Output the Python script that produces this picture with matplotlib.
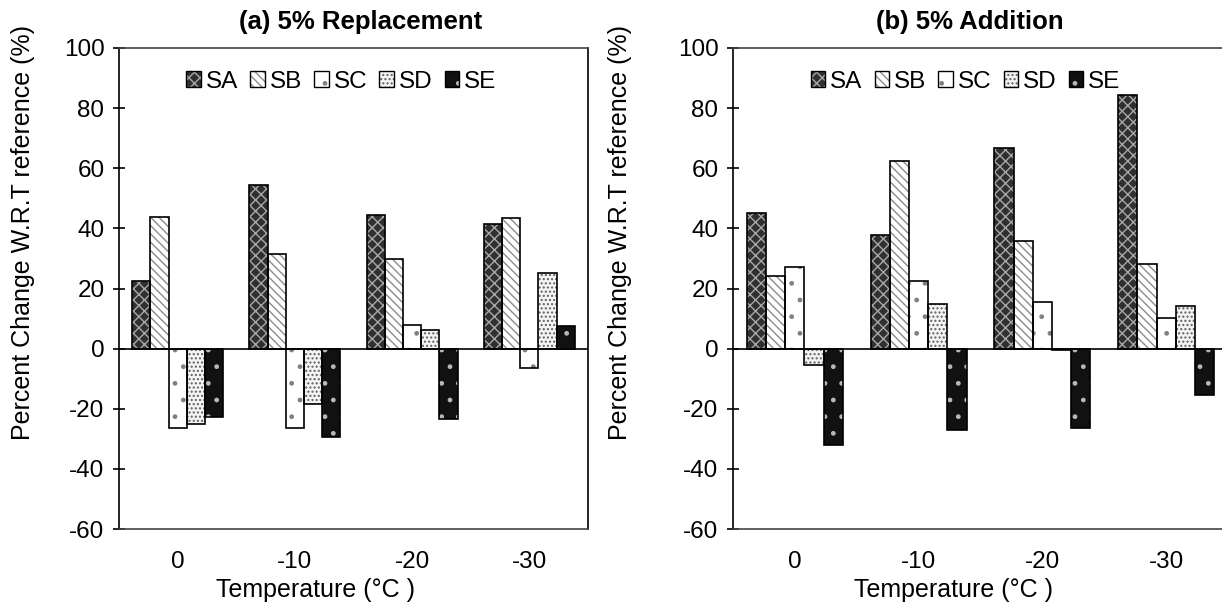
import numpy as np
import matplotlib
matplotlib.use("Agg")
import matplotlib.pyplot as plt
from matplotlib.patches import Patch

plt.rcParams['font.family'] = ['Liberation Sans', 'DejaVu Sans']
plt.rcParams['hatch.linewidth'] = 1.0
plt.rcParams['axes.unicode_minus'] = False

# data
temps = ['0', '-10', '-20', '-30']
series = ['SA', 'SB', 'SC', 'SD', 'SE']

repl_SA = [22.5, 54.3, 44.4, 41.6]
repl_SB = [43.8, 31.6, 29.9, 43.3]
repl_SC = [-26.5, -26.5, 7.9, -6.5]
repl_SD = [-25.0, -18.3, 6.3, 25.0]
repl_SE = [-22.6, -29.5, -23.4, 7.5]

add_SA = [45.0, 37.9, 66.8, 84.2]
add_SB = [24.1, 62.4, 35.8, 28.1]
add_SC = [27.2, 22.6, 15.5, 10.1]
add_SD = [-5.6, 15.0, -0.6, 14.3]
add_SE = [-32.0, -27.2, -26.4, -15.3]

# face, hatch, hatch colour per series
styles = [
    ('#303030', 'xxx', '#a8a8a8'),
    ('white', '\\\\\\\\', '#8c8c8c'),
    ('white', '.', '#808080'),
    ('#f4f4f4', '....', '#606060'),
    ('#111111', '.', '#b8b8b8'),
]

W, H = 1222, 613
fig = plt.figure(figsize=(W / 100, H / 100), dpi=100)


def draw_panel(rect, data, title, title_x, xlab_x, ylab_x, frame_right, leg_x):
    ax = fig.add_axes(rect)
    x = np.arange(len(temps))
    w = 0.155
    for i, vals in enumerate(data):
        fc, hatch, hc = styles[i]
        pos = x + (i - 2) * w
        ax.bar(pos, vals, w, color=fc, edgecolor=hc, hatch=hatch, linewidth=0, zorder=2)
        ax.bar(pos, vals, w, fill=False, edgecolor='black', linewidth=1.2, zorder=3)
    ax.axhline(0, color='black', lw=1.2, zorder=4)
    ax.set_xlim(-0.5, 3.5)
    ax.set_ylim(-60, 100)
    ax.set_yticks(np.arange(-60, 101, 20))
    ax.set_xticks(x)
    ax.set_xticklabels(temps)
    ax.tick_params(axis='x', length=0, pad=16, labelsize=17.5)
    ax.tick_params(axis='y', direction='inout', length=9, width=1.2, pad=6, labelsize=17.5)
    for s in ax.spines.values():
        s.set_linewidth(1.2)
    ax.spines['right'].set_visible(frame_right)
    ax.spines['top'].set_color('#444444')
    ax.spines['bottom'].set_color('#444444')

    handles = []
    for i in range(5):
        fc, hatch, hc = styles[i]
        handles.append((Patch(facecolor=fc, edgecolor=hc, hatch=hatch, linewidth=0),
                        Patch(fill=False, edgecolor='black', linewidth=1.0)))
    ax.legend(handles, series, ncol=5, frameon=False, loc='center',
              bbox_to_anchor=(leg_x, 0.93), fontsize=17.5, handlelength=0.6,
              handleheight=0.6, handletextpad=0.2, columnspacing=0.5)

    fig.text(title_x / W, 1 - 22 / H, title, ha='center', va='center',
             fontsize=18.5, fontweight='bold')
    fig.text(xlab_x / W, 1 - 590 / H, 'Temperature (°C )', ha='center', va='center',
             fontsize=18)
    fig.text(ylab_x / W, 1 - 233 / H, 'Percent Change W.R.T reference (%)',
             ha='center', va='center', rotation=90, fontsize=18)
    return ax


top, bot = 48, 529
draw_panel([119 / W, 1 - bot / H, 469 / W, (bot - top) / H],
           [repl_SA, repl_SB, repl_SC, repl_SD, repl_SE],
           '(a) 5% Replacement', 361, 315, 23, True, 0.474)
draw_panel([733 / W, 1 - bot / H, 495 / W, (bot - top) / H],
           [add_SA, add_SB, add_SC, add_SD, add_SE],
           '(b) 5% Addition', 970, 953, 620, False, 0.47)

fig.savefig('out.png', dpi=100)
